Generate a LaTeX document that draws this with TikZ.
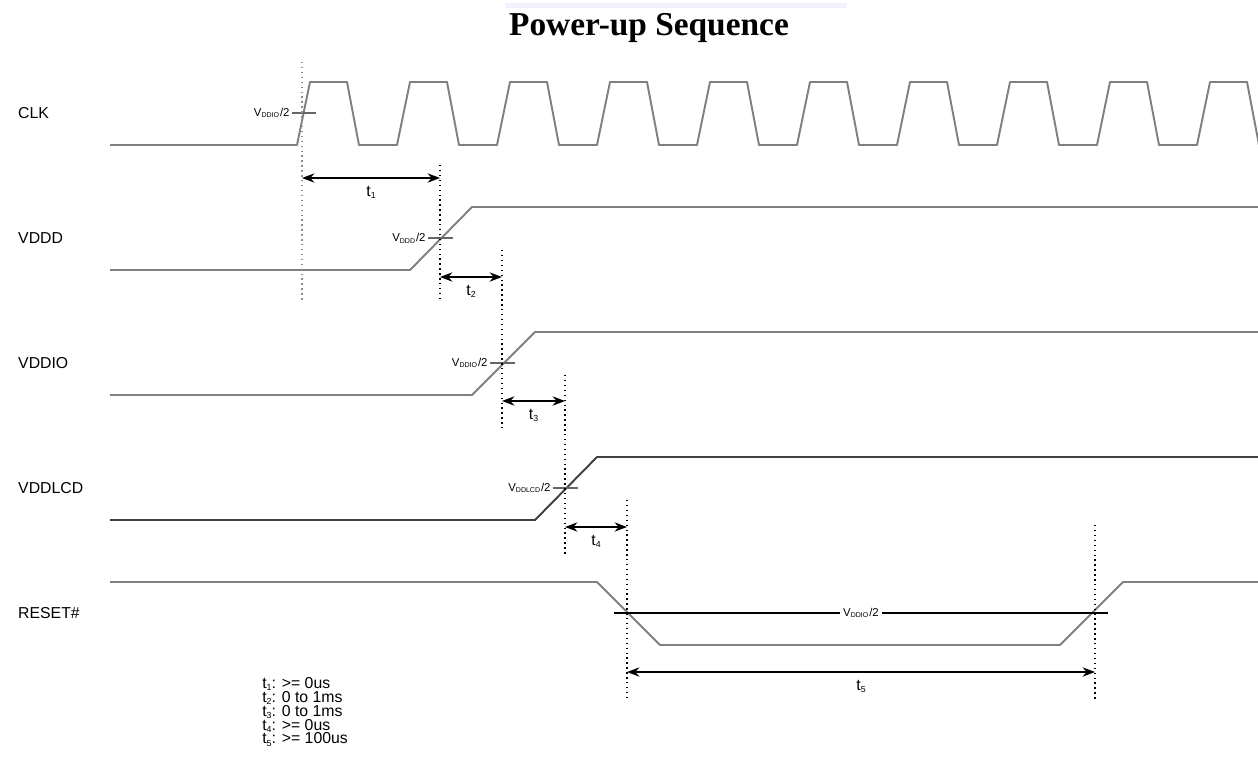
\documentclass[tikz,border=0pt]{standalone}
\usepackage{fontspec}
\setmainfont{Liberation Sans}
\newfontfamily\titlefont{Liberation Serif}
\usetikzlibrary{arrows.meta}
\newcommand{\vhalf}[1]{V\textsubscript{\fontsize{4}{4}\selectfont #1}/2}
\newcommand{\tsub}[1]{t\raisebox{-0.25ex}{\fontsize{5}{5}\selectfont #1}}

\begin{document}
\begin{tikzpicture}[x=0.02cm, y=-0.02cm, >=Stealth,
    wave/.style = {draw=black!50, line width=1.1pt, line join=round},
    darkwave/.style = {draw=black!75, line width=1.1pt, line join=round},
    tick/.style = {draw=black!60, line width=0.8pt},
    guide/.style = {draw=black, dotted, line width=0.8pt},
    sig/.style = {anchor=west, font=\fontsize{9}{10}\selectfont},
    lvl/.style = {anchor=east, inner sep=1pt, font=\fontsize{6.5}{7}\selectfont},
    dim/.style = {<->, line width=0.9pt},
    tlab/.style = {below, inner sep=4pt, font=\fontsize{9}{9}\selectfont}]
    \clip (0,0) rectangle (1258,782);
    \fill[white] (0,0) rectangle (1258,782);

    % Title
    \fill[blue!5] (505,3) rectangle (847,8);
    \node[anchor=base, font=\titlefont\bfseries\fontsize{19}{20}\selectfont] (title) at (649,35) {Power-up Sequence};

    % Signal names
    \node[sig] (clk) at (12,113) {CLK};
    \node[sig] (vddd) at (12,238) {VDDD};
    \node[sig] (vddio) at (12,363) {VDDIO};
    \node[sig] (vddlcd) at (12,488) {VDDLCD};
    \node[sig] (reset) at (12,613) {RESET\#};

    % Waveforms
    \draw[wave] (110,145) -- (297,145)
        foreach \k in {0,...,9} { -- ++(13,-63) -- ++(37,0) -- ++(12,63) -- ++(38,0) };
    \draw[wave] (110,270) -- (410,270) -- (472,207) -- (1258,207);
    \draw[wave] (110,395) -- (472,395) -- (535,332) -- (1258,332);
    \draw[darkwave] (110,520) -- (535,520) -- (597,457) -- (1258,457);
    \draw[wave] (110,582) -- (597,582) -- (660,645) -- (1060,645) -- (1123,582) -- (1258,582);

    % Levels
    \draw[tick] (292,113) -- (316,113) node[lvl, pos=0] {\vhalf{DDIO}};
    \draw[tick] (428,238) -- (453,238) node[lvl, pos=0] {\vhalf{DDD}};
    \draw[tick] (490,363) -- (515,363) node[lvl, pos=0] {\vhalf{DDIO}};
    \draw[tick] (553,488) -- (578,488) node[lvl, pos=0] {\vhalf{DDLCD}};
    \draw[line width=0.8pt] (614,613) -- node[fill=white, inner sep=2pt, font=\fontsize{6.5}{7}\selectfont] {\vhalf{DDIO}} (1108,613);

    % Guides
    \coordinate (g0) at (302,62);
    \coordinate (g1) at (440,165);
    \coordinate (g2) at (502,250);
    \coordinate (g3) at (565,375);
    \coordinate (g4) at (627,500);
    \coordinate (g5) at (1095,525);
    \draw[guide, draw=black!45] (g0) -- (302,300);
    \draw[guide] (g1) -- (440,300);
    \draw[guide] (g2) -- (502,428);
    \draw[guide] (g3) -- (565,555);
    \draw[guide] (g4) -- (627,700);
    \draw[guide] (g5) -- (1095,700);

    % Intervals
    \coordinate (t1a) at (302,178); \coordinate (t1b) at (440,178);
    \coordinate (t2a) at (440,277); \coordinate (t2b) at (502,277);
    \coordinate (t3a) at (502,401); \coordinate (t3b) at (565,401);
    \coordinate (t4a) at (565,527); \coordinate (t4b) at (627,527);
    \coordinate (t5a) at (627,672); \coordinate (t5b) at (1095,672);
    \draw[dim] (t1a) to node[tlab] {\tsub{1}} (t1b);
    \draw[dim] (t2a) to node[tlab] {\tsub{2}} (t2b);
    \draw[dim] (t3a) to node[tlab] {\tsub{3}} (t3b);
    \draw[dim] (t4a) to node[tlab] {\tsub{4}} (t4b);
    \draw[dim] (t5a) to node[tlab] {\tsub{5}} (t5b);

    % Legend
    \node[anchor=north west, align=left, inner sep=0pt, font=\fontsize{9}{7.9}\selectfont] (legend) at (262,677)
        {\tsub{1}: >= 0us\\\tsub{2}: 0 to 1ms\\\tsub{3}: 0 to 1ms\\\tsub{4}: >= 0us\\\tsub{5}: >= 100us};
\end{tikzpicture}
\end{document}
